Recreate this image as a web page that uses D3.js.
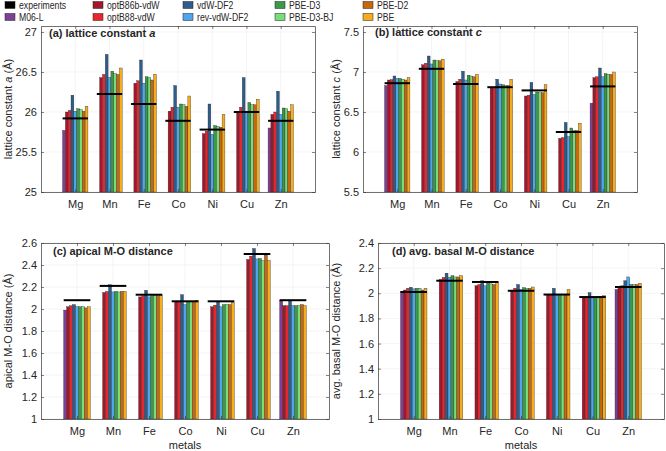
<!DOCTYPE html>
<html>
<head>
<meta charset="utf-8">
<script src="https://cdn.jsdelivr.net/npm/d3@7/dist/d3.min.js"></script>
<style>
  body { margin: 0; background: #fff; }
  text { font-family: "Liberation Sans", Arial, sans-serif; fill: #262626; }
</style>
</head>
<body>
<script>
var width = 666;
var height = 451;

var metals = ["Mg", "Mn", "Fe", "Co", "Ni", "Cu", "Zn"];
var methods = ["M06-L", "optB86b-vdW", "optB88-vdW", "vdW-DF2", "rev-vdW-DF2",
               "PBE-D3", "PBE-D3-BJ", "PBE-D2", "PBE"];
var colors = ["#7e3f96", "#a3162b", "#e8262b", "#2d5d8c", "#4ea7ee",
              "#3b9a48", "#76de78", "#c8650f", "#f6ad1d"];

// rows = metals, columns = methods (null = not computed)
var latticeA = [
  [25.77, 26.00, 26.02, 26.21, 26.01, 26.04, 26.03, 26.01, 26.07],
  [null,  26.43, 26.47, 26.72, 26.43, 26.51, 26.48, 26.47, 26.55],
  [null,  26.36, 26.39, 26.65, 26.36, 26.44, 26.43, 26.40, 26.47],
  [null,  26.01, 26.06, 26.33, 26.06, 26.10, 26.09, 26.07, 26.20],
  [null,  25.73, 25.76, 26.10, 25.72, 25.83, 25.82, 25.81, 25.97],
  [null,  26.00, 26.06, 26.43, 26.00, 26.12, 26.09, 26.09, 26.16],
  [25.80, 25.97, 26.00, 26.26, 25.97, 26.05, 26.04, 26.01, 26.09]
];
var latticeAExp = [25.92, 26.225, 26.10, 25.89, 25.78, 26.00, 25.89];

var latticeC = [
  [6.83, 6.90, 6.905, 6.95, 6.92, 6.92, 6.91, 6.90, 6.93],
  [null, 7.09, 7.11, 7.20, 7.10, 7.15, 7.14, 7.14, 7.16],
  [null, 6.88, 6.91, 7.01, 6.90, 6.96, 6.95, 6.94, 6.97],
  [null, 6.81, 6.81, 6.91, 6.85, 6.84, 6.83, 6.83, 6.91],
  [null, 6.70, 6.71, 6.87, 6.72, 6.75, 6.74, 6.74, 6.84],
  [null, 6.17, 6.18, 6.37, 6.19, 6.30, 6.27, 6.27, 6.36],
  [6.61, 6.93, 6.94, 7.05, 6.94, 6.98, 6.97, 6.97, 7.00]
];
var latticeCExp = [6.86, 7.04, 6.85, 6.81, 6.77, 6.25, 6.82];

var apical = [
  [1.99, 2.02, 2.03, 2.04, 2.02, 2.02, 2.02, 2.01, 2.02],
  [null, 2.15, 2.16, 2.22, 2.155, 2.16, 2.155, 2.16, 2.16],
  [null, 2.11, 2.12, 2.17, 2.11, 2.12, 2.12, 2.12, 2.12],
  [null, 2.07, 2.07, 2.13, 2.04, 2.07, 2.07, 2.07, 2.08],
  [null, 2.02, 2.035, 2.07, 2.02, 2.04, 2.04, 2.04, 2.06],
  [null, 2.45, 2.48, 2.55, 2.455, 2.46, 2.44, 2.49, 2.44],
  [2.08, 2.03, 2.03, 2.08, 2.03, 2.03, 2.03, 2.04, 2.03]
];
var apicalExp = [2.08, 2.21, 2.13, 2.07, 2.07, 2.50, 2.08];

var basal = [
  [2.013, 2.026, 2.04, 2.048, 2.035, 2.04, 2.04, 2.026, 2.04],
  [null, 2.11, 2.127, 2.16, 2.127, 2.14, 2.13, 2.13, 2.14],
  [null, 2.06, 2.07, 2.10, 2.06, 2.08, 2.075, 2.07, 2.085],
  [null, 2.02, 2.04, 2.07, 2.03, 2.045, 2.04, 2.04, 2.05],
  [null, 1.99, 1.99, 2.04, 1.99, 1.99, 1.99, 1.99, 2.03],
  [null, 1.965, 1.965, 2.005, 1.965, 1.97, 1.965, 1.975, 1.98],
  [2.03, 2.05, 2.06, 2.10, 2.13, 2.07, 2.07, 2.07, 2.08]
];
var basalExp = [2.01, 2.10, 2.09, 2.02, 1.99, 1.97, 2.05];

var ticksLattice = [25, 25.5, 26, 26.5, 27];
var ticksLatticeC = [5.5, 6, 6.5, 7, 7.5];
var ticksApical = [1, 1.2, 1.4, 1.6, 1.8, 2, 2.2, 2.4, 2.6];
var ticksBasal = [1, 1.2, 1.4, 1.6, 1.8, 2, 2.2, 2.4];

var svg = d3.select("body").append("svg")
  .attr("width", width)
  .attr("height", height);

// legend
var legendItems = [{name: "experiments", color: "#000"}].concat(
  methods.map(function(m, i) { return {name: m, color: colors[i]}; }));
var legendCols = [5, 93, 183, 275, 363];
legendItems.forEach(function(d, i) {
  var col = Math.floor(i / 2), row = i % 2;
  var g = svg.append("g")
    .attr("transform", "translate(" + legendCols[col] + "," + (row * 12) + ")");
  g.append("rect")
    .attr("x", 0).attr("y", 1.5)
    .attr("width", 10).attr("height", 7)
    .attr("fill", d.color)
    .attr("stroke", "#222").attr("stroke-width", 0.5);
  g.append("text")
    .attr("transform", "translate(14,8.5) scale(0.85,1)")
    .attr("font-size", "10.2px")
    .text(d.name);
});

var panels = [
  {data: latticeA, exp: latticeAExp, left: 41, right: 315, top: 26, bottom: 192,
   domain: [25, 27.075], ticks: ticksLattice, ylabel: "lattice constant ", yital: "a",
   title: "(a)  lattice constant ", tital: "a", tx: 49, ty: 37, lx: 8},
  {data: latticeC, exp: latticeCExp, left: 363, right: 637, top: 26, bottom: 192,
   domain: [5.5, 7.575], ticks: ticksLatticeC, ylabel: "lattice constant ", yital: "c",
   title: "(b) lattice constant ", tital: "c", tx: 375, ty: 36, lx: 336},
  {data: apical, exp: apicalExp, left: 41, right: 329, top: 243, bottom: 419,
   domain: [1, 2.6], ticks: ticksApical, ylabel: "apical M-O distance", yital: "",
   title: "(c) apical M-O distance", tital: "", tx: 53, ty: 255, lx: 8, xlabel: "metals"},
  {data: basal, exp: basalExp, left: 378, right: 664, top: 243, bottom: 419,
   domain: [1, 2.4], ticks: ticksBasal, ylabel: "avg. basal M-O distance", yital: "",
   title: "(d) avg. basal M-O distance", tital: "", tx: 392, ty: 255, lx: 336, xlabel: "metals"}
];

panels.forEach(drawPanel);

function drawPanel(p) {
  var xScale = d3.scaleLinear().domain([0, 8]).range([p.left, p.right]);
  var yScale = d3.scaleLinear().domain(p.domain).range([p.bottom, p.top]);
  var step = xScale(1) - xScale(0);
  var groupW = step * 0.74;
  var inner = d3.scaleBand().domain(methods).range([-groupW / 2, groupW / 2]);
  var pos = function(i) { return xScale(i + 1); };

  var g = svg.append("g");

  // grid
  g.selectAll(".gy").data(p.ticks).enter().append("line")
    .attr("x1", p.left).attr("x2", p.right)
    .attr("y1", function(d) { return yScale(d); })
    .attr("y2", function(d) { return yScale(d); })
    .attr("stroke", "#ececec").attr("stroke-width", 0.6);
  g.selectAll(".gx").data(metals).enter().append("line")
    .attr("x1", function(d, i) { return pos(i); })
    .attr("x2", function(d, i) { return pos(i); })
    .attr("y1", p.top).attr("y2", p.bottom)
    .attr("stroke", "#ececec").attr("stroke-width", 0.6);

  // bars
  p.data.forEach(function(row, i) {
    var cells = row.map(function(v, j) { return {v: v, j: j}; })
                   .filter(function(c) { return c.v !== null; });
    g.selectAll(null).data(cells).enter().append("rect")
      .attr("x", function(c) { return pos(i) + inner(methods[c.j]); })
      .attr("width", inner.bandwidth())
      .attr("y", function(c) { return yScale(c.v); })
      .attr("height", function(c) { return yScale(p.domain[0]) - yScale(c.v); })
      .attr("fill", function(c) { return colors[c.j]; })
      .attr("stroke", "#2a2a2a")
      .attr("stroke-width", 0.35);
  });

  // experiment lines
  g.selectAll(".exp").data(p.exp).enter().append("line")
    .attr("x1", function(d, i) { return pos(i) - groupW / 2; })
    .attr("x2", function(d, i) { return pos(i) + groupW / 2; })
    .attr("y1", function(d) { return yScale(d); })
    .attr("y2", function(d) { return yScale(d); })
    .attr("stroke", "#000").attr("stroke-width", 2);

  // axes (ticks inside, box)
  var xTicks = metals.map(function(d, i) { return i + 1; });
  var xAxis = d3.axisBottom(xScale).tickValues(xTicks)
    .tickFormat(function(d) { return metals[d - 1]; })
    .tickSizeInner(-3).tickSizeOuter(0).tickPadding(8);
  var yAxis = d3.axisLeft(yScale).tickValues(p.ticks)
    .tickFormat(function(d) { return String(d); })
    .tickSizeInner(-3).tickSizeOuter(0).tickPadding(4);

  var axes = [
    g.append("g").attr("transform", "translate(0," + p.bottom + ")").call(xAxis),
    g.append("g").attr("transform", "translate(" + p.left + ",0)").call(yAxis),
    g.append("g").attr("transform", "translate(0," + p.top + ")")
      .call(d3.axisTop(xScale).tickValues(xTicks).tickFormat("").tickSizeInner(-3).tickSizeOuter(0)),
    g.append("g").attr("transform", "translate(" + p.right + ",0)")
      .call(d3.axisRight(yScale).tickValues(p.ticks).tickFormat("").tickSizeInner(-3).tickSizeOuter(0))
  ];
  axes.forEach(function(a) {
    a.select(".domain").attr("stroke", "#333").attr("stroke-width", 0.7);
    a.selectAll(".tick line").attr("stroke", "#333").attr("stroke-width", 0.6);
    a.selectAll("text").attr("font-size", "11px").attr("fill", "#262626")
      .attr("font-family", "Liberation Sans, Arial, sans-serif");
  });

  // title
  var t = g.append("text")
    .attr("x", p.tx).attr("y", p.ty)
    .attr("font-size", "11px").attr("font-weight", "bold")
    .text(p.title);
  if (p.tital) t.append("tspan").attr("font-style", "italic").text(p.tital);

  // y label
  var yl = g.append("text")
    .attr("transform", "translate(" + p.lx + "," + ((p.top + p.bottom) / 2) + ") rotate(-90)")
    .attr("text-anchor", "middle")
    .attr("dy", "0.35em")
    .attr("font-size", "11px")
    .text(p.ylabel);
  if (p.yital) yl.append("tspan").attr("font-style", "italic").text(p.yital);
  yl.append("tspan").text(" (\u00c5)");

  // x label
  if (p.xlabel) {
    g.append("text")
      .attr("x", (p.left + p.right) / 2)
      .attr("y", 449)
      .attr("text-anchor", "middle")
      .attr("font-size", "11px")
      .text(p.xlabel);
  }
}
</script>
</body>
</html>
